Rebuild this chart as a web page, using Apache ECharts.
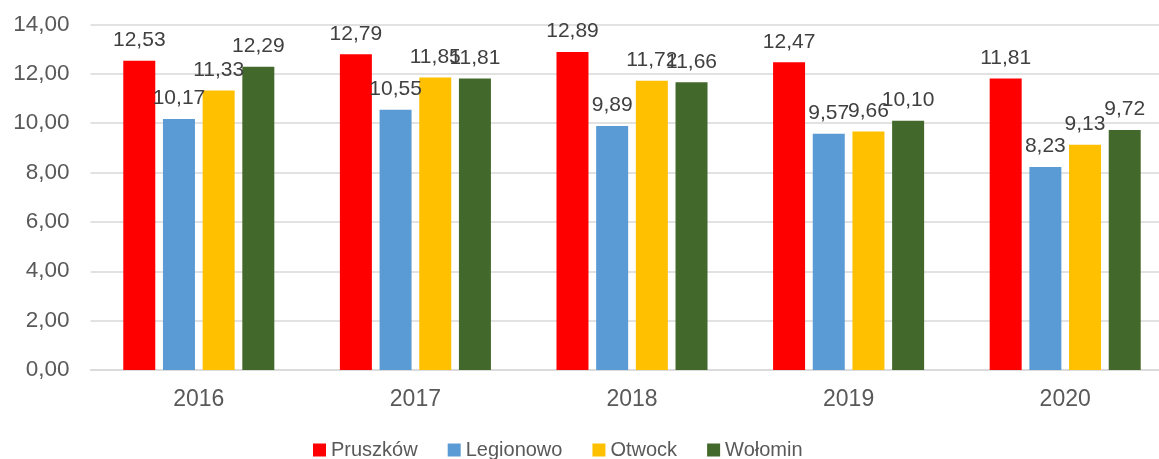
<!DOCTYPE html>
<html>
<head>
<meta charset="utf-8">
<script src="https://cdn.jsdelivr.net/npm/echarts@6/dist/echarts.min.js"></script>
<style>html,body{margin:0;padding:0;background:#fff}#c{width:1159px;height:459px}</style>
</head>
<body>
<div id="c"></div>
<script>
const categories = ['2016', '2017', '2018', '2019', '2020'];
const seriesNames = ['Pruszków', 'Legionowo', 'Otwock', 'Wołomin'];
const pruszkow = [12.53, 12.79, 12.89, 12.47, 11.81];
const legionowo = [10.17, 10.55, 9.89, 9.57, 8.23];
const otwock = [11.33, 11.85, 11.72, 9.66, 9.13];
const wolomin = [12.29, 11.81, 11.66, 10.10, 9.72];
const colors = ['#FF0000', '#5B9BD5', '#FFC000', '#43682B'];
const yTicks = { min: 0, max: 14, interval: 2 };

const fmt = v => v.toFixed(2).replace('.', ',');
const font = 'Liberation Sans, Arial, sans-serif';
const allData = [pruszkow, legionowo, otwock, wolomin];

const chart = echarts.init(document.getElementById('c'));
chart.setOption({
  animation: false,
  grid: { left: 90.5, width: 1083, top: 24.5, bottom: 89, outerBoundsMode: 'none', containLabel: false },
  legend: {
    top: 435, left: 308,
    icon: 'rect', itemWidth: 13, itemHeight: 13, itemGap: 30,
    textStyle: { fontFamily: font, fontSize: 20, color: '#595959' },
    data: seriesNames
  },
  xAxis: {
    type: 'category', data: categories,
    axisLine: { lineStyle: { color: '#D9D9D9', width: 1.5 } },
    axisTick: { show: false },
    axisLabel: { fontFamily: font, fontSize: 23, color: '#595959', margin: 18 }
  },
  yAxis: {
    type: 'value', min: yTicks.min, max: yTicks.max, interval: yTicks.interval,
    axisLine: { show: false }, axisTick: { show: false },
    splitLine: { lineStyle: { color: '#D9D9D9', width: 1.5 } },
    axisLabel: { fontFamily: font, fontSize: 22.5, color: '#595959', margin: 21, formatter: v => fmt(v) }
  },
  series: seriesNames.map((name, i) => ({
    name, type: 'bar', data: allData[i],
    barWidth: 32, barGap: '24%',
    itemStyle: { color: colors[i] },
    label: {
      show: true, position: 'top', distance: 10,
      fontFamily: font, fontSize: 21, color: '#404040',
      formatter: p => fmt(p.value)
    }
  }))
});
</script>
</body>
</html>
